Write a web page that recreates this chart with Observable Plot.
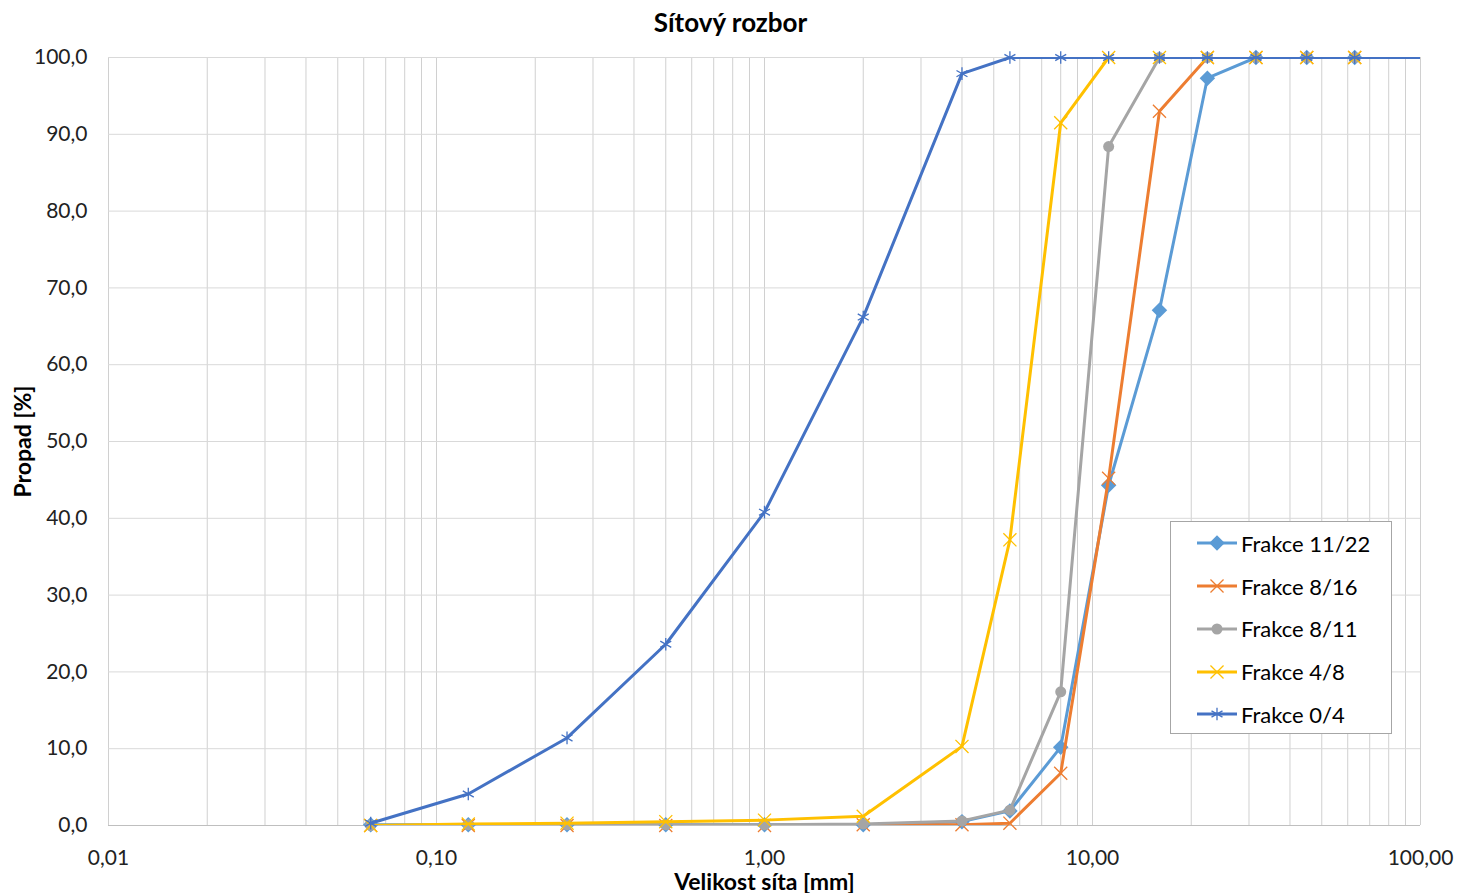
<!DOCTYPE html>
<html><head><meta charset="utf-8">
<script src="https://cdn.jsdelivr.net/npm/d3@7"></script>
<script src="https://cdn.jsdelivr.net/npm/@observablehq/plot@0.6"></script>
<style>
body{margin:0;background:#fff;font-family:Lato,"Open Sans",sans-serif;}
#wrap{position:relative;width:1461px;height:893px;overflow:hidden;}
#title{height:40px;box-sizing:border-box;padding-top:4px;display:flex;align-items:center;justify-content:center;font-weight:bold;font-size:26px;color:#000;}
#legend{position:absolute;left:1170px;top:521px;width:222px;height:213px;box-sizing:border-box;border:1px solid #a6a6a6;background:#fff;padding-top:0px;}
.row{height:42.75px;display:flex;align-items:center;font-size:22px;color:#000;}
.row svg{margin-left:25px;margin-right:3px;}
</style></head>
<body><div id="wrap"><div id="title">Sítový rozbor</div><div id="chart"></div><div id="legend"></div></div>
<script>
const sieves = [0.063, 0.125, 0.25, 0.5, 1, 2, 4, 5.6, 8, 11.2, 16, 22.4, 31.5, 45, 63, 125];
const seriesNames = ["Frakce 11/22", "Frakce 8/16", "Frakce 8/11", "Frakce 4/8", "Frakce 0/4"];
const f1122 = [0.1, 0.1, 0.1, 0.1, 0.1, 0.1, 0.5, 1.9, 10.2, 44.3, 67.1, 97.3, 100, 100, 100, 100];
const f816  = [0.0, 0.0, 0.0, 0.0, 0.0, 0.1, 0.1, 0.3, 6.8, 45.2, 93.0, 100, 100, 100, 100, 100];
const f811  = [0.0, 0.1, 0.1, 0.1, 0.1, 0.2, 0.6, 2.0, 17.4, 88.4, 100, 100, 100, 100, 100, 100];
const f48   = [0.0, 0.2, 0.3, 0.5, 0.7, 1.2, 10.3, 37.2, 91.5, 100, 100, 100, 100, 100, 100, 100];
const f04   = [0.3, 4.1, 11.4, 23.6, 40.8, 66.2, 97.9, 100, 100, 100, 100, 100, 100, 100, 100, 100];
const seriesValues = [f1122, f816, f811, f48, f04];
const colors = ["#5B9BD5", "#ED7D31", "#A5A5A5", "#FFC000", "#4472C4"];
const symbols = ["diamond2", "times", "circle", "times", "asterisk"];
const xTicks = [0.01, 0.1, 1, 10, 100];
const yTicks = [0, 10, 20, 30, 40, 50, 60, 70, 80, 90, 100];

const xDomain = [0.01, 100];
const xGrid = d3.scaleLog().domain(xDomain).ticks();
const fmtX = d => d.toFixed(2).replace(".", ",");
const fmtY = d => d.toFixed(1).replace(".", ",");
const symR = {diamond2: 7, times: 6, circle: 5.5, asterisk: 6};

const marks = [
  Plot.gridX(xGrid, {stroke: "#d0d0d0", strokeOpacity: 1, strokeWidth: 1}),
  Plot.gridY(yTicks, {stroke: "#d9d9d9", strokeOpacity: 1, strokeWidth: 1}),
  Plot.ruleY([0], {stroke: "#bfbfbf", strokeWidth: 1}),
  Plot.axisX(xTicks, {tickSize: 0, tickPadding: 25, tickFormat: fmtX, fontSize: 21, fill: "#222",
    label: "Velikost síta [mm]", labelAnchor: "center", labelOffset: 64, labelArrow: "none"}),
  Plot.axisY(yTicks, {tickSize: 0, tickPadding: 21, tickFormat: fmtY, fontSize: 21, fill: "#222",
    label: "Propad [%]", labelAnchor: "center", labelOffset: 94, labelArrow: "none"})
];
seriesNames.forEach((name, i) => {
  const data = sieves.map((s, j) => ({x: s, y: seriesValues[i][j], name}));
  const sym = symbols[i];
  const filled = sym === "diamond2" || sym === "circle";
  marks.push(Plot.line(data, {x: "x", y: "y", stroke: colors[i], strokeWidth: 3, clip: true}));
  marks.push(Plot.dot(data.filter(d => d.x <= 100), {x: "x", y: "y", symbol: sym, r: symR[sym],
    fill: filled ? colors[i] : "none", stroke: filled ? "none" : colors[i], strokeWidth: 1.3}));
});

const chart = Plot.plot({
  width: 1461, height: 853,
  marginTop: 17, marginBottom: 68, marginLeft: 108, marginRight: 41,
  style: {fontFamily: "Lato, 'Open Sans', sans-serif", fontSize: "21px", background: "#fff", overflow: "visible"},
  x: {type: "log", domain: xDomain},
  y: {domain: [0, 100]},
  marks
});
chart.querySelectorAll('[aria-label="x-axis label"] text, [aria-label="y-axis label"] text').forEach(t => {
  t.setAttribute("font-weight", "bold"); t.setAttribute("font-size", "23"); t.setAttribute("fill", "#000");
});
document.getElementById("chart").appendChild(chart);

// legend
const leg = d3.select("#legend");
seriesNames.forEach((name, i) => {
  const row = leg.append("div").attr("class", "row");
  const svg = row.append("svg").attr("width", 42).attr("height", 20);
  svg.append("line").attr("x1", 1).attr("x2", 41).attr("y1", 10).attr("y2", 10).attr("stroke", colors[i]).attr("stroke-width", 3);
  const sym = symbols[i];
  const typ = {diamond2: d3.symbolDiamond2, times: d3.symbolTimes, circle: d3.symbolCircle, asterisk: d3.symbolAsterisk}[sym];
  const filled = sym === "diamond2" || sym === "circle";
  svg.append("path").attr("transform", "translate(21,10)")
    .attr("d", d3.symbol(typ, Math.PI * symR[sym] ** 2)())
    .attr("fill", filled ? colors[i] : "none").attr("stroke", filled ? "none" : colors[i]).attr("stroke-width", 1.3);
  row.append("span").text(name);
});
</script></body></html>
